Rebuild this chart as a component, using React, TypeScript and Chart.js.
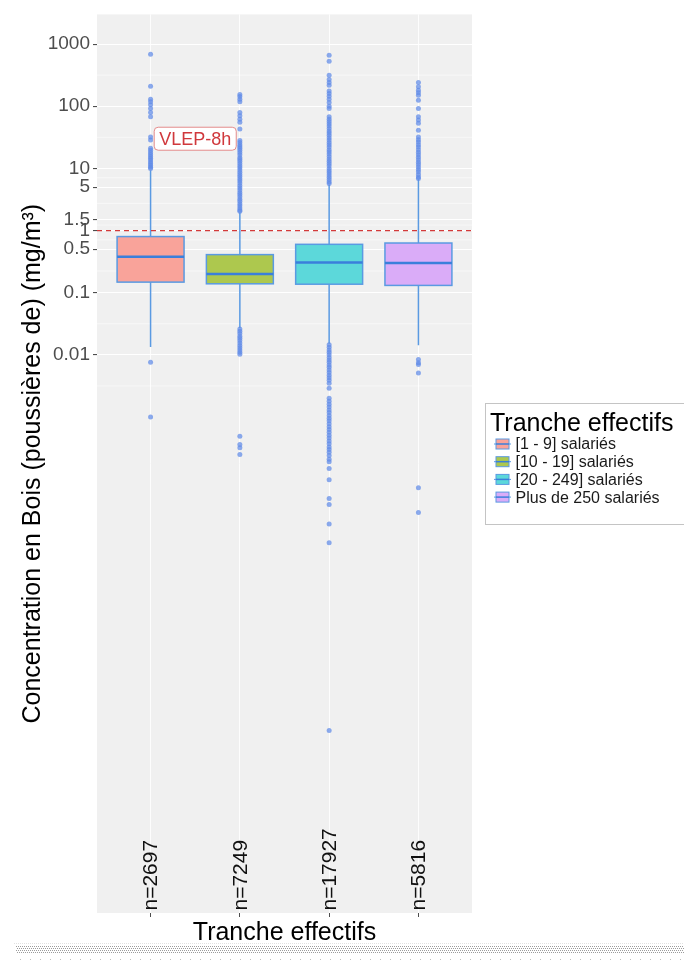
import { useEffect, useRef } from "react";
import { Chart, registerables } from "chart.js";

Chart.register(...registerables);

// Groups (company size bands) and their sample counts
const GROUPS = ["[1 - 9] salariés", "[10 - 19] salariés", "[20 - 249] salariés", "Plus de 250 salariés"];
const COUNT_LABELS = ["n=2697", "n=7249", "n=17927", "n=5816"];
const FILL_COLORS = ["#F9A39A", "#ADC84E", "#5CD8DA", "#DAACF8"];

// Box statistics, mg/m³
const Q1 = [0.148, 0.139, 0.137, 0.131];
const MEDIAN = [0.38, 0.2, 0.306, 0.3];
const Q3 = [0.8, 0.41, 0.6, 0.63];
const WHISKER_LOW = [0.0134, 0.027, 0.0151, 0.0143];
const WHISKER_HIGH = [9.3, 1.97, 5.5, 6.7];

// Outlying measurements per group
const OUTLIERS_1 = [
  686, 210, 130, 118, 106, 92, 79, 68, 32, 28.6, 21, 19.5, 18, 16.8, 15.6, 14.6, 13.6, 12.7, 11.9, 11.1, 10.4, 10.0,
  0.0076, 0.001,
];
const OUTLIERS_2 = [
  155, 143, 129, 118, 79, 70, 62, 55, 43,
  28, 26, 24, 22.5, 21, 19.5, 18, 16.5, 15, 14, 13, 12, 11, 10.2, 9.4, 8.7, 8, 7.4, 6.8, 6.3, 5.8, 5.3, 4.9, 4.5,
  4.1, 3.8, 3.5, 3.2, 2.95, 2.7, 2.5, 2.3, 2.15, 2.05,
  0.026, 0.024, 0.022, 0.02, 0.0185, 0.017, 0.0155, 0.0142, 0.013, 0.012, 0.011, 0.0102,
  0.00049, 0.00036, 0.00032, 0.00025,
];
const OUTLIERS_3 = [
  661, 530, 316, 270, 240, 218, 175, 160, 145, 130, 115, 100, 92,
  68, 62, 57, 52, 48, 44, 40, 37, 34, 31, 28.5, 26, 24, 22, 20, 18.5, 17, 15.5, 14.2, 13, 12, 11, 10, 9.2, 8.5, 7.8,
  7.2, 6.6, 6.1, 5.7,
  0.0145, 0.0132, 0.012, 0.011, 0.01, 0.0091, 0.0083, 0.0076, 0.0069, 0.0063, 0.0057, 0.0052, 0.0047, 0.0043,
  0.0039, 0.0035, 0.0029, 0.002, 0.0018, 0.0016, 0.00145, 0.0013, 0.00118, 0.00106, 0.00096, 0.00087, 0.00078,
  0.0007, 0.00063, 0.00057, 0.00051, 0.00046, 0.00041, 0.00037, 0.00033, 0.0003, 0.00027, 0.00024, 0.00021,
  0.00019, 0.000148, 0.0000977, 0.000049, 0.000039, 0.000019, 0.0000095, 9.1e-9,
];
const OUTLIERS_4 = [
  240, 205, 181, 165, 150, 125, 92, 68, 60, 53, 41,
  32, 29, 26.5, 24, 22, 20, 18.2, 16.6, 15.1, 13.8, 12.6, 11.5, 10.5, 9.6, 8.8, 8.0, 7.3, 6.9,
  0.0084, 0.0075, 0.007, 0.0051, 0.000073, 0.000029,
];
const OUTLIERS = [OUTLIERS_1, OUTLIERS_2, OUTLIERS_3, OUTLIERS_4];

// Y axis
const Y_TICKS = [0.01, 0.1, 0.5, 1, 1.5, 5, 10, 100, 1000];
const Y_MIN = 1.05e-11;
const Y_MAX = 3000;

// Occupational exposure limit and its label
const VLEP = 1;
const VLEP_LABEL = "VLEP-8h";
const VLEP_LABEL_X = 1.5;
const VLEP_LABEL_Y = 30;
const COUNT_LABEL_Y = 1.15e-11;

const FONT = "'Liberation Sans', Arial, Helvetica, sans-serif";
const LINE_BLUE = "#5A9AE2";
const MEDIAN_BLUE = "#3A7FDB";

const boxPlotPlugin = {
  id: "boxPlot",
  beforeDraw(chart: any) {
    const { ctx, chartArea: a, scales } = chart;
    const y = scales.y;
    ctx.save();
    ctx.fillStyle = "#F0F0F0";
    ctx.fillRect(a.left, a.top, a.right - a.left, a.bottom - a.top);
    // minor grid lines halfway between major breaks (log space)
    const logs = Y_TICKS.map((v) => Math.log10(v));
    const minor: number[] = [logs[0] - (logs[1] - logs[0]) / 2];
    for (let i = 0; i < logs.length - 1; i++) minor.push((logs[i] + logs[i + 1]) / 2);
    ctx.strokeStyle = "rgba(255,255,255,0.9)";
    ctx.lineWidth = 0.6;
    for (const m of minor) {
      const py = y.getPixelForValue(Math.pow(10, m));
      if (py < a.top || py > a.bottom) continue;
      ctx.beginPath();
      ctx.moveTo(a.left, py);
      ctx.lineTo(a.right, py);
      ctx.stroke();
    }
    ctx.restore();
  },
  beforeDatasetsDraw(chart: any) {
    const { ctx, scales } = chart;
    const x = scales.x;
    const y = scales.y;
    ctx.save();
    for (let i = 0; i < GROUPS.length; i++) {
      const xc = x.getPixelForValue(i + 1);
      const half = x.getPixelForValue(i + 1 + 0.375) - xc;
      const yq1 = y.getPixelForValue(Q1[i]);
      const yq3 = y.getPixelForValue(Q3[i]);
      const ymed = y.getPixelForValue(MEDIAN[i]);
      const ylo = y.getPixelForValue(WHISKER_LOW[i]);
      const yhi = y.getPixelForValue(WHISKER_HIGH[i]);
      ctx.strokeStyle = LINE_BLUE;
      ctx.lineWidth = 1.5;
      ctx.beginPath();
      ctx.moveTo(xc, yhi);
      ctx.lineTo(xc, yq3);
      ctx.moveTo(xc, yq1);
      ctx.lineTo(xc, ylo);
      ctx.stroke();
      ctx.fillStyle = FILL_COLORS[i];
      ctx.fillRect(xc - half, yq3, 2 * half, yq1 - yq3);
      ctx.strokeRect(xc - half, yq3, 2 * half, yq1 - yq3);
      ctx.strokeStyle = MEDIAN_BLUE;
      ctx.lineWidth = 2.5;
      ctx.beginPath();
      ctx.moveTo(xc - half, ymed);
      ctx.lineTo(xc + half, ymed);
      ctx.stroke();
    }
    ctx.restore();
  },
  afterDatasetsDraw(chart: any) {
    const { ctx, chartArea: a, scales } = chart;
    const x = scales.x;
    const y = scales.y;
    ctx.save();
    // exposure limit line
    const yv = y.getPixelForValue(VLEP);
    ctx.strokeStyle = "#D33A3A";
    ctx.lineWidth = 1.2;
    ctx.setLineDash([5, 4]);
    ctx.beginPath();
    ctx.moveTo(a.left, yv);
    ctx.lineTo(a.right, yv);
    ctx.stroke();
    ctx.setLineDash([]);

    // label box
    ctx.font = `18px ${FONT}`;
    const lx = x.getPixelForValue(VLEP_LABEL_X);
    const ly = y.getPixelForValue(VLEP_LABEL_Y);
    const tw = ctx.measureText(VLEP_LABEL).width;
    const bw = tw + 10;
    const bh = 23;
    const bx = lx - bw / 2;
    const by = ly - bh / 2;
    const r = 4;
    ctx.beginPath();
    ctx.moveTo(bx + r, by);
    ctx.arcTo(bx + bw, by, bx + bw, by + bh, r);
    ctx.arcTo(bx + bw, by + bh, bx, by + bh, r);
    ctx.arcTo(bx, by + bh, bx, by, r);
    ctx.arcTo(bx, by, bx + bw, by, r);
    ctx.closePath();
    ctx.fillStyle = "#FFFFFF";
    ctx.fill();
    ctx.strokeStyle = "#E48B8B";
    ctx.lineWidth = 1;
    ctx.stroke();
    ctx.fillStyle = "#D0383C";
    ctx.textAlign = "center";
    ctx.textBaseline = "middle";
    ctx.fillText(VLEP_LABEL, lx, ly + 1);

    // group counts, written upward from the bottom of the panel
    ctx.font = `21px ${FONT}`;
    ctx.fillStyle = "#111111";
    ctx.textAlign = "left";
    ctx.textBaseline = "middle";
    const cy = y.getPixelForValue(COUNT_LABEL_Y);
    for (let i = 0; i < COUNT_LABELS.length; i++) {
      const cx = x.getPixelForValue(i + 1) + 1;
      ctx.save();
      ctx.translate(cx, cy);
      ctx.rotate(-Math.PI / 2);
      ctx.fillText(COUNT_LABELS[i], 0, 0);
      ctx.restore();
    }
    ctx.restore();
  },
  afterDraw(chart: any) {
    const { ctx, chartArea: a, width, height } = chart;
    ctx.save();
    // legend
    const lx = a.right + 13.5;
    const ly = 403.5;
    ctx.fillStyle = "#FFFFFF";
    ctx.fillRect(lx, ly, 215, 121);
    ctx.strokeStyle = "#C4C4C4";
    ctx.lineWidth = 1;
    ctx.strokeRect(lx, ly, 215, 121);
    ctx.fillStyle = "#000000";
    ctx.font = `25px ${FONT}`;
    ctx.textAlign = "left";
    ctx.textBaseline = "middle";
    ctx.fillText("Tranche effectifs", lx + 4.5, ly + 21);
    ctx.font = `16px ${FONT}`;
    for (let i = 0; i < GROUPS.length; i++) {
      const cy = ly + 40.5 + i * 17.7;
      const gx = lx + 10.5;
      ctx.strokeStyle = LINE_BLUE;
      ctx.lineWidth = 1;
      ctx.beginPath();
      ctx.moveTo(gx - 2, cy);
      ctx.lineTo(gx, cy);
      ctx.moveTo(gx + 13, cy);
      ctx.lineTo(gx + 15, cy);
      ctx.stroke();
      ctx.fillStyle = FILL_COLORS[i];
      ctx.fillRect(gx, cy - 5, 13, 10);
      ctx.strokeRect(gx, cy - 5, 13, 10);
      ctx.strokeStyle = MEDIAN_BLUE;
      ctx.lineWidth = 1.5;
      ctx.beginPath();
      ctx.moveTo(gx, cy);
      ctx.lineTo(gx + 13, cy);
      ctx.stroke();
      ctx.fillStyle = "#1A1A1A";
      ctx.fillText(GROUPS[i], lx + 30, cy + 1);
    }

    // dotted band along the bottom edge
    ctx.fillStyle = "#E2E2E2";
    for (let px = 14; px < width; px += 2) ctx.fillRect(px, height - 20, 1, 1);
    ctx.fillStyle = "#9C9C9C";
    for (let row = 0; row < 4; row++) {
      const py = height - 17 + row * 2;
      for (let px = 16 + (row % 2); px < width; px += 2) ctx.fillRect(px, py, 1, 1);
    }
    ctx.fillStyle = "#BDBDBD";
    for (let px = 20; px < width; px += 10) ctx.fillRect(px, height - 4, 1, 1);
    ctx.restore();
  },
};

export default function App() {
  const canvasRef = useRef<HTMLCanvasElement | null>(null);

  useEffect(() => {
    const canvas = canvasRef.current;
    if (!canvas) return;
    const points = OUTLIERS.flatMap((vals, i) => vals.map((v) => ({ x: i + 1, y: v })));
    const chart = new Chart(canvas, {
      type: "scatter",
      data: {
        datasets: [
          {
            label: "outliers",
            data: points,
            pointRadius: 2.5,
            pointBorderWidth: 0,
            pointBackgroundColor: "rgba(96,138,232,0.72)",
            pointBorderColor: "rgba(0,0,0,0)",
          },
        ],
      },
      options: {
        responsive: false,
        animation: false,
        events: [],
        devicePixelRatio: 1,
        layout: { padding: { top: 12, right: 212, left: 0, bottom: 0 } },
        plugins: { legend: { display: false }, tooltip: { enabled: false } },
        scales: {
          x: {
            type: "linear",
            min: 0.4,
            max: 4.6,
            afterBuildTicks: (scale: any) => {
              scale.ticks = [1, 2, 3, 4].map((v) => ({ value: v }));
            },
            afterFit: (scale: any) => {
              scale.height = 50;
            },
            ticks: { callback: () => "", autoSkip: false },
            grid: { color: "rgba(255,255,255,0.85)", lineWidth: 1, tickLength: 4, tickColor: "#4D4D4D" },
            border: { display: false },
            title: {
              display: true,
              text: "Tranche effectifs",
              color: "#000000",
              font: { family: FONT, size: 25 },
              padding: { top: 0, bottom: 15 },
            },
          },
          y: {
            type: "logarithmic",
            min: Y_MIN,
            max: Y_MAX,
            afterBuildTicks: (scale: any) => {
              scale.ticks = Y_TICKS.map((v) => ({ value: v }));
            },
            afterFit: (scale: any) => {
              scale.width = 97;
            },
            ticks: {
              autoSkip: false,
              padding: 3,
              color: "#4D4D4D",
              font: { family: FONT, size: 19 },
              callback: (v: any) => String(v),
            },
            grid: { color: "#FFFFFF", lineWidth: 1.1, tickLength: 4, tickColor: "#4D4D4D" },
            border: { display: false },
            title: {
              display: true,
              text: "Concentration en Bois (poussières de) (mg/m³)",
              color: "#000000",
              font: { family: FONT, size: 25 },
              padding: { top: 18, bottom: 0 },
            },
          },
        },
      },
      plugins: [boxPlotPlugin],
    } as any);
    return () => chart.destroy();
  }, []);

  return (
    <div style={{ position: "fixed", left: 0, top: 0, width: 684, height: 963, background: "#FFFFFF" }}>
      <canvas ref={canvasRef} width={684} height={963} style={{ display: "block" }} />
    </div>
  );
}
